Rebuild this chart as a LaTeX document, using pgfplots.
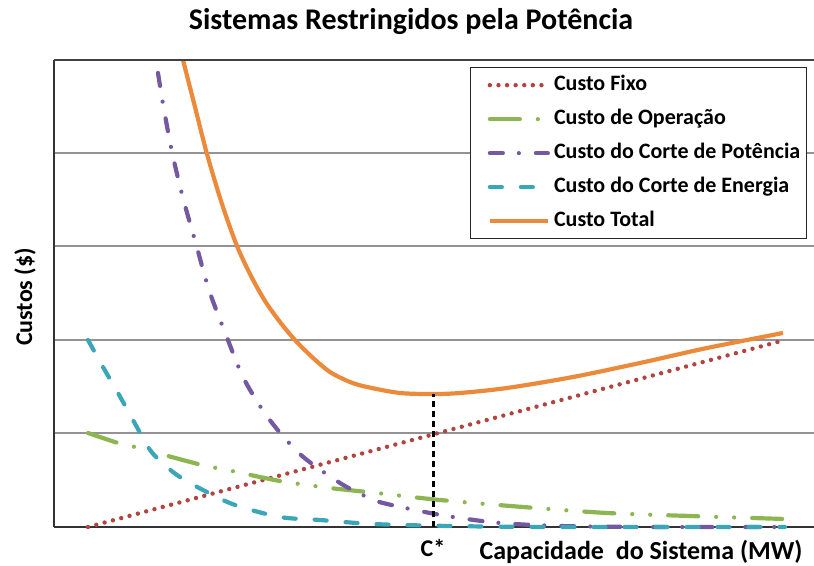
\documentclass[border=0pt]{standalone}
\usepackage{fontspec}
\setmainfont{Carlito}
\usepackage{pgfplots}
\pgfplotsset{compat=1.18}

\definecolor{cfixo}{HTML}{B2443F}
\definecolor{coper}{HTML}{8DB552}
\definecolor{cpot}{HTML}{7458A0}
\definecolor{cener}{HTML}{3AA6B8}
\definecolor{ctotal}{HTML}{EC8A3C}

\begin{document}
\begin{tikzpicture}
% fixed page: 814 x 565, axis area from (54,60) to (814,527) in pixels
\useasboundingbox (-54pt,-38pt) rectangle (760pt,527pt);
\begin{axis}[
    at={(0pt,0pt)}, anchor=origin,
    scale only axis,
    width=760pt, height=467pt,
    xmin=0, xmax=760, ymin=0, ymax=467,
    axis x line=bottom, axis y line=left,
    axis line style={-, black!80, line width=1.8pt},
    xtick=\empty,
    ytick={94,187,281,374,467},
    yticklabels={},
    major tick length=0pt,
    ymajorgrids,
    grid style={gray!85, line width=1.2pt},
    clip=false,
    legend style={at={(axis cs:416,460)}, anchor=north west,
        draw=black!85, line width=1.3pt, fill=white,
        font=\fontsize{22}{24}\selectfont\bfseries,
        inner xsep=4pt, inner ysep=6pt,
        row sep=11pt, column sep=2pt,
        nodes={inner sep=2pt, text height=15pt, text depth=4pt}},
    legend cell align=left,
    legend image code/.code={\path (0pt,0pt);
        \draw[#1] (13pt,0pt) -- (71pt,0pt);},
]

% Custo Fixo
\addplot[cfixo, line width=4.4pt, line cap=round, dash pattern=on 0pt off 8.6pt]
    coordinates {(34,0) (731,187)};
\addlegendentry{Custo Fixo}

% Custo de Operacao
\addplot[coper, line width=4.2pt, line cap=round, smooth,
    dash pattern=on 30pt off 18pt on 0pt off 18pt on 0pt off 18pt]
    coordinates {
    (34,94) (64,84) (81,80) (144,63) (178,56) (226,46) (276,39)
    (323,34) (386,27) (469,20) (553,14) (636,11) (731,8)};
\addlegendentry{Custo de Operação}

% Custo do Corte de Potencia
\addplot[cpot, line width=4.2pt, line cap=round, smooth,
    dash pattern=on 13pt off 16pt on 0pt off 17pt]
    coordinates {
    (104,454) (109,423) (118,375) (129,329) (142,283) (155,237)
    (172,192) (190,148) (215,108) (247,72) (286,44) (313,30)
    (329,24) (376,14) (406,9) (446,4) (506,1) (600,0) (731,0)};
\addlegendentry{Custo do Corte de Potência}

% Custo do Corte de Energia
\addplot[cener, line width=4.2pt, line cap=round, smooth,
    dash pattern=on 12pt off 19pt]
    coordinates {
    (34,187) (49,160) (64,134) (79,107) (94,80) (103,69) (114,59)
    (126,50) (149,37) (181,22) (226,10) (266,7) (319,3) (396,1)
    (500,0) (731,0)};
\addlegendentry{Custo do Corte de Energia}

% Custo Total
\addplot[ctotal, line width=4.2pt, smooth]
    coordinates {
    (129,467) (141,420) (153,373) (168,323) (183,281) (197,251)
    (211,226) (226,205) (241,187) (258,170) (276,155) (296,145)
    (313,140) (346,134) (379,133) (406,134) (453,139) (519,150)
    (586,164) (653,179) (729,194)};
\addlegendentry{Custo Total}

% optimum capacity marker
\addplot[black, line width=3pt, dash pattern=on 6pt off 4pt, forget plot]
    coordinates {(379,0) (379,133)};

\draw[black!75, line width=1.4pt] (axis cs:0,467) -- (axis cs:760,467);

\node[font=\fontsize{30}{34}\selectfont\bfseries] at (axis cs:357,505)
    {Sistemas Restringidos pela Potência};
\node[font=\fontsize{24}{26}\selectfont\bfseries, rotate=90] at (axis cs:-29,230)
    {Custos (\$)};
\node[font=\fontsize{26}{28}\selectfont\bfseries] at (axis cs:587,-25)
    {Capacidade\ \ do Sistema (MW)};
\node[font=\fontsize{24}{26}\selectfont\bfseries] at (axis cs:379,-21) {C*};

\end{axis}
\end{tikzpicture}
\end{document}
